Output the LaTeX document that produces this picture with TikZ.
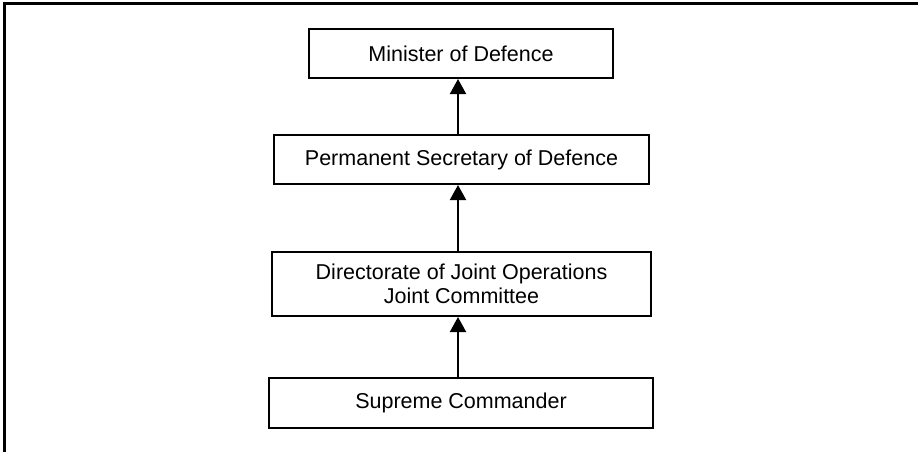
\documentclass[tikz,border=0pt]{standalone}
\usepackage{fontspec}
\setmainfont{Liberation Sans}
\usetikzlibrary{arrows.meta}
\begin{document}
\begin{tikzpicture}[x=1pt,y=-1pt,
  orgbox/.style={draw=black,line width=2pt,inner sep=0pt,align=center,
    font=\fontsize{21.5}{24.5}\selectfont},
  uparrow/.style={line width=2pt,-{Triangle[width=16pt,length=15pt]}},
  frameline/.style={line width=2.5pt}]
\useasboundingbox (0,0) rectangle (918,452);
\draw[frameline] (918,3.5) -- (4.5,3.5) -- (4.5,452);
\node[orgbox,minimum width=304pt,minimum height=49pt] (min) at (461,53.5) {Minister of Defence};
\node[orgbox,minimum width=375pt,minimum height=49pt] (perm) at (461.5,159.5) {Permanent Secretary of Defence};
\node[orgbox,minimum width=379pt,minimum height=64pt] (dir) at (461.5,284) {Directorate of Joint Operations\\Joint Committee};
\node[orgbox,minimum width=384pt,minimum height=50pt] (sup) at (461,403) {Supreme Commander};
\coordinate (ax) at (458,0);
\draw[uparrow] (perm.north -| ax) -- (min.south -| ax);
\draw[uparrow] (dir.north -| ax) -- (perm.south -| ax);
\draw[uparrow] (sup.north -| ax) -- (dir.south -| ax);
\end{tikzpicture}
\end{document}
